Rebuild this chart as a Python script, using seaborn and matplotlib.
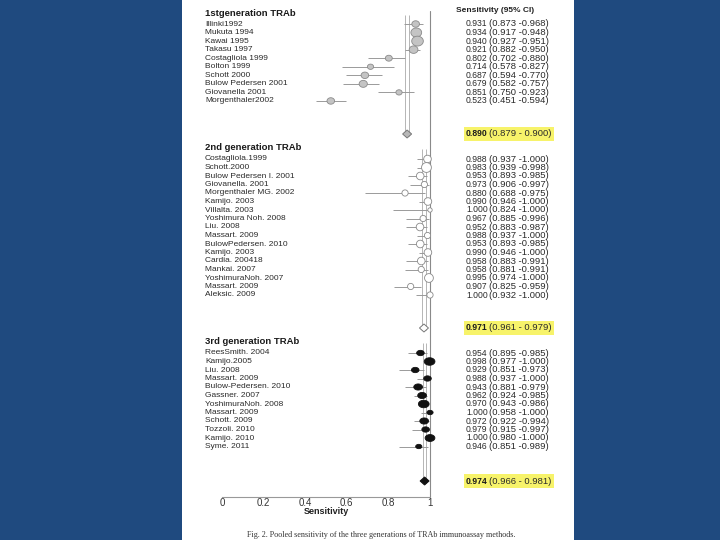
import numpy as np
import pandas as pd
import matplotlib
matplotlib.use("Agg")
import matplotlib.pyplot as plt
from matplotlib.patches import Rectangle
from matplotlib.path import Path
import seaborn as sns

# ---------------- data ----------------
gen1_names = ["Illinki1992", "Mukuta 1994", "Kawai 1995", "Takasu 1997", "Costagliola 1999",
              "Bolton 1999", "Schott 2000", "Bulow Pedersen 2001", "Giovanella 2001", "Morgenthaler2002"]
gen1_sens = [0.931, 0.934, 0.940, 0.921, 0.802, 0.714, 0.687, 0.679, 0.851, 0.523]
gen1_lo = [0.873, 0.917, 0.927, 0.882, 0.702, 0.578, 0.594, 0.582, 0.750, 0.451]
gen1_hi = [0.968, 0.948, 0.951, 0.950, 0.880, 0.827, 0.770, 0.757, 0.923, 0.594]
gen1_weight = [5, 8, 9, 6, 4.5, 4, 5, 5.5, 4, 5]
gen1_pooled = (0.890, 0.879, 0.900)

gen2_names = ["Costagliola.1999", "Schott.2000", "Bulow Pedersen I. 2001", "Giovanella. 2001",
              "Morgenthaler MG. 2002", "Kamijo. 2003", "Villalta. 2003", "Yoshimura Noh. 2008",
              "Liu. 2008", "Massart. 2009", "BulowPedersen. 2010", "Kamijo. 2003", "Cardia. 200418",
              "Mankai. 2007", "YoshimuraNoh. 2007", "Massart. 2009", "Aleksic. 2009"]
gen2_sens = [0.988, 0.983, 0.953, 0.973, 0.880, 0.990, 1.000, 0.967, 0.952, 0.988, 0.953,
             0.990, 0.958, 0.958, 0.995, 0.907, 1.000]
gen2_lo = [0.937, 0.939, 0.893, 0.906, 0.688, 0.946, 0.824, 0.885, 0.883, 0.937, 0.893,
           0.946, 0.883, 0.881, 0.974, 0.825, 0.932]
gen2_hi = [1.000, 0.998, 0.985, 0.997, 0.975, 1.000, 1.000, 0.996, 0.987, 1.000, 0.985,
           1.000, 0.991, 0.991, 1.000, 0.959, 1.000]
gen2_weight = [5, 7, 5, 4, 4, 5, 3, 4, 5, 4, 5, 5, 5, 4, 6, 4, 4]
gen2_pooled = (0.971, 0.961, 0.979)

gen3_names = ["ReesSmith. 2004", "Kamijo.2005", "Liu. 2008", "Massart. 2009", "Bulow-Pedersen. 2010",
              "Gassner. 2007", "YoshimuraNoh. 2008", "Massart. 2009", "Schott. 2009", "Tozzoli. 2010",
              "Kamijo. 2010", "Syme. 2011"]
gen3_sens = [0.954, 0.998, 0.929, 0.988, 0.943, 0.962, 0.970, 1.000, 0.972, 0.979, 1.000, 0.946]
gen3_lo = [0.895, 0.977, 0.851, 0.937, 0.881, 0.924, 0.943, 0.958, 0.922, 0.915, 0.980, 0.851]
gen3_hi = [0.985, 1.000, 0.973, 1.000, 0.979, 0.985, 0.986, 1.000, 0.994, 0.997, 1.000, 0.989]
gen3_weight = [5, 8, 5, 5, 6, 6, 8, 4, 6, 5, 7, 4]
gen3_pooled = (0.974, 0.966, 0.981)

group_titles = ["1stgeneration TRAb", "2nd generation TRAb", "3rd generation TRAb"]
tick_values = [0, 0.2, 0.4, 0.6, 0.8, 1]
tick_labels = ["0", "0.2", "0.4", "0.6", "0.8", "1"]
col_header = "Sensitivity (95% CI)"
xlabel = "Sensitivity"
caption = "Fig. 2. Pooled sensitivity of the three generations of TRAb immunoassay methods."

# ---------------- layout ----------------
W, H = 720, 540
X0PX, UNITPX = 222, 208          # pixel of x=0 and pixels per unit
PANEL_L, PANEL_R = 182, 574
AX_BOTTOM = 497


def px2x(px):
    return (px - X0PX) / UNITPX


groups = [
    dict(title=group_titles[0], names=gen1_names, sens=gen1_sens, lo=gen1_lo, hi=gen1_hi, w=gen1_weight,
         pooled=gen1_pooled, header_y=14, first_y=24, step=8.55, pooled_y=134,
         fc="#c4c4c4", ec="#8a8a8a", dfc="#b8b8b8", dec="#777777", aspect=0.85),
    dict(title=group_titles[1], names=gen2_names, sens=gen2_sens, lo=gen2_lo, hi=gen2_hi, w=gen2_weight,
         pooled=gen2_pooled, header_y=148, first_y=159, step=8.5, pooled_y=328,
         fc="white", ec="#8a8a8a", dfc="white", dec="#777777", aspect=1.0),
    dict(title=group_titles[2], names=gen3_names, sens=gen3_sens, lo=gen3_lo, hi=gen3_hi, w=gen3_weight,
         pooled=gen3_pooled, header_y=342, first_y=353, step=8.5, pooled_y=481,
         fc="#111111", ec="#111111", dfc="#111111", dec="#111111", aspect=0.7),
]

sns.set_theme(style="white")
plt.rcParams["font.family"] = ["Liberation Sans", "DejaVu Sans"]

fig = plt.figure(figsize=(W / 100, H / 100), dpi=100)
fig.patch.set_facecolor("#1F4A7F")
fig.add_artist(Rectangle((PANEL_L / W, 0), (PANEL_R - PANEL_L) / W, 1,
                         transform=fig.transFigure, facecolor="white", edgecolor="none", zorder=0))

ax = fig.add_axes([PANEL_L / W, (H - AX_BOTTOM) / H, (PANEL_R - PANEL_L) / W, AX_BOTTOM / H])
ax.set_facecolor("none")

# reference line at 1
ax.plot([1, 1], [11, AX_BOTTOM], color="#8a8a8a", lw=0.8, zorder=1)

# column header
ax.text(px2x(456), 10, col_header, ha="left", va="center", fontsize=6, fontweight="bold", color="#222222")

name_x = px2x(205)
val_x = px2x(466)
ci_x = px2x(489)
VAL_FS = 6.2
CI_FS = 6.8


def ellipse_marker(aspect):
    t = np.linspace(0, 2 * np.pi, 40)
    verts = np.column_stack([np.cos(t), aspect * np.sin(t)])
    return Path(verts, closed=True)


for g in groups:
    n = len(g["names"])
    ys = [g["first_y"] + i * g["step"] for i in range(n)]
    df = pd.DataFrame({"name": g["names"], "sens": g["sens"], "lo": g["lo"], "hi": g["hi"],
                       "weight": g["w"], "y": ys})

    # group header
    ax.text(name_x, g["header_y"], g["title"], ha="left", va="center", fontsize=6.8,
            fontweight="bold", color="#1a1a1a")

    # pooled CI vertical lines
    est, plo, phi = g["pooled"]
    ax.vlines([plo, phi], g["header_y"] + 1, g["pooled_y"] + 2, color="#aaaaaa", lw=0.6, zorder=1)

    # whiskers
    ax.hlines(df["y"], df["lo"], df["hi"], color="#9a9a9a", lw=0.7, zorder=2)

    # markers
    sns.scatterplot(data=df, x="sens", y="y", size="weight", sizes=(10, 70), size_norm=(3, 9),
                    marker=ellipse_marker(g["aspect"]), color=g["fc"], edgecolor=g["ec"],
                    linewidth=0.6, legend=False, ax=ax, zorder=3, clip_on=False)

    # study labels and values
    for _, r in df.iterrows():
        ax.text(name_x, r["y"], r["name"], ha="left", va="center", fontsize=6, color="#2a2a2a")
        ax.text(val_x, r["y"], f"{r['sens']:.3f}", ha="left", va="center", fontsize=VAL_FS, color="#2a2a2a")
        ax.text(ci_x, r["y"], f"({r['lo']:.3f} -{r['hi']:.3f})", ha="left", va="center",
                fontsize=CI_FS, color="#2a2a2a")

    # pooled diamond (fixed symbol size centred on pooled estimate)
    py = g["pooled_y"]
    half_h = 4.0
    half_w = 4.5 / UNITPX
    dx = [est - half_w, est, est + half_w, est, est - half_w]
    dy = [py, py - half_h, py, py + half_h, py]
    ax.fill(dx, dy, facecolor=g["dfc"], edgecolor=g["dec"], lw=0.7, zorder=4)

    hl = dict(boxstyle="square,pad=0.25", fc="#F7F36A", ec="none")
    ax.text(val_x, py, f"{est:.3f}", ha="left", va="center", fontsize=VAL_FS, fontweight="bold",
            color="#1a1a1a", bbox=hl)
    ax.text(ci_x, py, f"({plo:.3f} - {phi:.3f})", ha="left", va="center", fontsize=CI_FS,
            color="#2a2a2a", bbox=hl)

ax.set_xlim(px2x(PANEL_L), px2x(PANEL_R))
ax.set_ylim(AX_BOTTOM, 0)
for s in ["top", "right", "left"]:
    ax.spines[s].set_visible(False)
ax.spines["bottom"].set_bounds(0, 1)
ax.spines["bottom"].set_color("#999999")
ax.spines["bottom"].set_linewidth(0.8)
ax.set_yticks([])
ax.set_xticks(tick_values)
ax.set_xticklabels(tick_labels, fontsize=7, color="#333333")
ax.tick_params(axis="x", length=0, pad=1)
ax.set_xlabel("")
ax.set_ylabel("")
ax.text(0.5, 512, xlabel, ha="center", va="center", fontsize=6.5, fontweight="bold",
        color="#222222", clip_on=False)

fig.text(381 / W, 1 - 535 / H, caption, ha="center", va="center", fontsize=5.9,
         family=["Liberation Serif", "DejaVu Serif"], color="#333333")

fig.savefig("out.png", dpi=100, facecolor=fig.get_facecolor())
